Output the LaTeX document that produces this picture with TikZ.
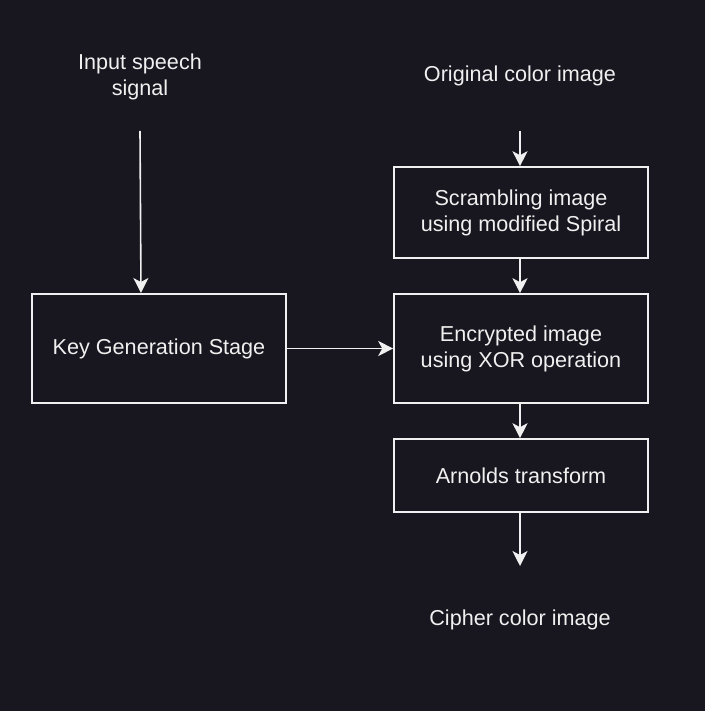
\documentclass[tikz,border=0pt]{standalone}
\usepackage{fontspec}
\setmainfont{Liberation Sans}
\usetikzlibrary{arrows.meta}
\definecolor{bg}{RGB}{24,22,30}
\definecolor{fg}{RGB}{240,240,240}
\begin{document}
\begin{tikzpicture}[x=1pt,y=-1pt,
  box/.style={draw=fg,line width=1.6pt,fill=bg,text=fg,minimum width=254pt,inner sep=0pt,align=center,font=\fontsize{21.6}{26}\selectfont},
  lbl/.style={text=fg,align=center,font=\fontsize{21.6}{26}\selectfont},
  conn/.style={draw=fg,line width=1.6pt,-{Stealth[length=15pt,width=15pt,inset=4pt]}}]
\useasboundingbox[fill=bg] (0,0) rectangle (705,711);
\node[box,minimum height=109pt] (key) at (159,348.5) {Key Generation Stage};
\node[box,minimum height=91pt] (scr) at (521,212.5) {Scrambling image\\using modified Spiral};
\node[box,minimum height=109pt] (enc) at (521,348.5) {Encrypted image\\using XOR operation};
\node[box,minimum height=73pt] (arn) at (521,475.5) {Arnolds transform};
\node[lbl] (inp) at (140,77) {Input speech\\signal};
\node[lbl] (orig) at (520,76) {Original color image};
\node[lbl] (ciph) at (520,620) {Cipher color image};
\coordinate (inS) at (140,131);
\coordinate (inE) at (141,293);
\coordinate (orS) at (520,131);
\coordinate (ciE) at (520,566);
\draw[conn] (inS) -- (inE);
\draw[conn] (orS) -- (scr.north -| orS);
\draw[conn] (scr.south -| orS) -- (enc.north -| orS);
\draw[conn] (enc.south -| orS) -- (arn.north -| orS);
\draw[conn] (arn.south -| orS) -- (ciE);
\draw[conn] (key.east) -- (enc.west);
\end{tikzpicture}
\end{document}
